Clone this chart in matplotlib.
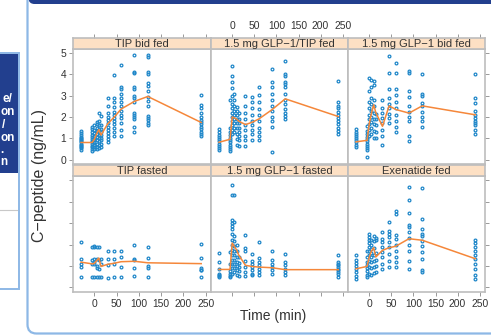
import matplotlib
matplotlib.use("Agg")
import matplotlib.pyplot as plt
from matplotlib.patches import FancyBboxPatch, Rectangle

plt.rcParams['font.family'] = ['Liberation Sans', 'DejaVu Sans']

# ---------------- data ----------------
times = [-30, -5, 0, 5, 10, 15, 30, 45, 60, 90, 120, 240]
x_ticks = [0, 50, 100, 150, 200, 250]
y_ticks = [0, 1, 2, 3, 4, 5]
panel_titles = ["TIP bid fed", "1.5 mg GLP\u22121/TIP fed", "1.5 mg GLP\u22121 bid fed",
                "TIP fasted", "1.5 mg GLP\u22121 fasted", "Exenatide fed"]

pts_tip_bid_fed = [
    [0.45, 0.52, 0.6, 0.65, 0.7, 0.75, 0.8, 0.85, 0.9, 0.95, 1.0, 1.05, 1.15, 1.25, 1.35],
    [0.42, 0.5, 0.58, 0.65, 0.72, 0.8, 0.88, 0.95, 1.05, 1.15, 1.3, 1.45, 1.55],
    [0.5, 0.6, 0.7, 0.8, 0.9, 1.0, 1.1, 1.25, 1.4, 1.6],
    [0.5, 0.6, 0.75, 0.9, 1.05, 1.2, 1.35, 1.5, 1.65, 1.75],
    [0.55, 0.7, 0.85, 1.0, 1.15, 1.3, 1.45, 1.6, 1.8, 2.2],
    [0.6, 0.75, 0.9, 1.0, 1.15, 1.3, 1.45, 1.6, 2.05],
    [0.8, 0.95, 1.1, 1.25, 1.4, 1.55, 1.7, 1.85, 2.0, 2.2, 2.5, 2.9],
    [1.1, 1.3, 1.5, 1.65, 1.8, 1.95, 2.1, 2.25, 2.45, 2.7, 2.9, 3.95],
    [1.1, 1.4, 1.7, 1.95, 2.1, 2.3, 2.5, 2.7, 2.9, 3.1, 3.3, 3.4, 4.45],
    [1.3, 1.55, 1.9, 2.0, 2.1, 2.2, 2.7, 2.9, 3.0, 3.3, 3.4, 4.05, 4.1, 4.9],
    [1.6, 1.7, 1.85, 1.95, 2.05, 2.5, 2.75, 2.95, 3.2, 3.45, 3.6, 4.0, 4.1, 4.8, 4.9],
    [1.1, 1.2, 1.3, 1.45, 1.55, 1.65, 1.75, 1.85, 2.0, 2.2, 2.4, 2.55, 3.05],
]
pts_glp_tip_fed = [
    [0.44, 0.55, 0.65, 0.75, 0.85, 0.95, 1.05, 1.15, 1.3, 1.45],
    [0.4, 0.5, 0.6, 0.7, 0.8, 0.9, 1.0, 1.15, 1.3, 1.5, 2.8],
    [1.2, 1.4, 1.6, 1.8, 2.0, 2.2, 2.4, 2.6, 3.0, 3.35, 3.66, 3.9, 4.39],
    [1.3, 1.5, 1.7, 1.9, 2.1, 2.3, 2.5, 2.8, 3.1],
    [0.7, 0.95, 1.2, 1.5, 1.7, 1.9, 2.1, 2.3, 2.45],
    [0.65, 0.9, 1.1, 1.3, 1.5, 1.7, 1.9, 2.2],
    [0.65, 0.9, 1.1, 1.4, 1.6, 1.9, 2.2, 2.5, 3.0],
    [0.9, 1.2, 1.4, 1.6, 1.8, 2.1, 2.4, 2.7, 2.95],
    [0.9, 1.1, 1.3, 1.5, 1.8, 2.1, 2.35, 2.7, 3.05, 3.4],
    [0.34, 1.55, 1.8, 2.0, 2.3, 2.5, 2.8, 3.1, 3.4, 3.65, 4.24],
    [1.9, 2.05, 2.2, 2.35, 2.6, 2.8, 3.1, 3.4, 3.55, 3.65, 3.9, 4.0, 4.63],
    [1.2, 1.35, 1.5, 1.65, 1.8, 1.95, 2.1, 2.25, 2.4, 2.5, 2.7, 3.7],
]
pts_glp_bid_fed = [
    [0.6, 0.7, 0.8, 0.9, 1.0, 1.1, 1.2, 1.3, 1.43],
    [0.1, 0.45, 0.55, 0.65, 0.75, 0.85, 0.95, 1.05, 1.2, 1.35, 1.56],
    [1.1, 1.4, 1.65, 1.9, 2.1, 2.4, 2.7, 3.2, 3.85],
    [1.2, 1.5, 1.75, 2.0, 2.3, 2.6, 2.9, 3.4, 3.75],
    [1.0, 1.35, 1.65, 1.9, 2.2, 2.5, 2.8, 3.5, 3.7],
    [1.0, 1.3, 1.6, 1.9, 2.15],
    [0.7, 1.1, 1.4, 1.7, 1.95, 2.2, 2.4, 2.8],
    [1.7, 1.95, 2.15, 2.4, 2.6, 2.9, 3.3, 4.08, 4.88],
    [1.3, 1.55, 1.8, 2.1, 2.4, 2.7, 3.05, 3.3, 4.05, 4.55],
    [0.85, 1.1, 1.8, 2.0, 2.25, 2.5, 2.95, 3.2, 4.05, 4.16],
    [1.55, 1.8, 2.0, 2.25, 2.5, 2.65, 3.0, 3.1, 4.02],
    [1.2, 1.4, 1.6, 1.7, 1.8, 1.95, 2.1, 2.3, 2.65, 2.9, 4.02],
]
pts_tip_fasted = [
    [0.48, 0.95, 1.1, 1.31, 2.12],
    [0.48, 1.1, 1.3, 1.88],
    [0.48, 1.08, 1.2, 1.31, 1.9, 1.93],
    [0.48, 0.9, 0.98, 1.33, 1.9],
    [0.5, 0.87, 1.26, 1.88],
    [0.5, 1.1, 1.33],
    [0.45, 1.07, 1.31, 1.7],
    [0.48, 1.1, 1.33, 1.7],
    [0.5, 0.95, 1.4, 1.7],
    [0.53, 0.92, 1.26, 1.33, 2.0],
    [0.47, 0.92, 1.02, 1.39, 1.88],
    [0.47, 0.8, 0.83, 0.92, 1.39, 2.04],
]
pts_glp_fasted = [
    [0.48, 0.55, 0.6, 0.64, 0.85, 1.18, 1.6],
    [0.48, 0.55, 0.64, 0.75, 1.1, 1.65],
    [0.64, 0.9, 1.1, 1.3, 1.5, 1.75, 2.0, 2.2, 2.5, 2.7, 2.85, 3.0, 3.13, 4.3, 4.77],
    [0.7, 0.9, 1.1, 1.3, 1.5, 1.7, 1.95, 2.15, 2.4, 3.05, 4.3],
    [0.6, 0.8, 1.0, 1.2, 1.4, 1.7, 2.0],
    [0.55, 0.75, 0.95, 1.15, 1.4],
    [0.55, 0.7, 0.95, 1.25, 1.7, 1.85, 2.43],
    [0.6, 0.64, 0.8, 0.95, 1.1, 1.25, 1.57],
    [0.56, 0.72, 0.88, 1.03, 1.2, 1.36, 2.12],
    [0.64, 0.8, 0.95, 1.1, 1.26, 1.7],
    [0.56, 0.72, 0.87, 1.03, 1.18, 1.57],
    [0.48, 0.64, 0.72, 0.8, 0.87, 0.95, 1.03, 1.1, 1.18, 1.53],
]
pts_exenatide_fed = [
    [0.4, 0.55, 0.7, 0.85, 1.0, 1.15, 1.26, 1.5],
    [0.48, 0.6, 0.75, 0.9, 1.05, 1.2, 1.4, 1.7],
    [0.65, 0.95, 1.25, 1.5, 1.7, 1.9, 2.05, 2.2, 2.35, 2.48],
    [0.6, 0.9, 1.2, 1.4, 1.6, 1.8, 2.0, 2.2],
    [0.67, 0.95, 1.25, 1.5, 1.85, 2.15, 2.4],
    [0.7, 1.0, 1.3, 1.6, 2.2, 2.3],
    [0.87, 1.1, 1.4, 1.65, 1.9, 2.1, 2.25, 2.6],
    [0.95, 1.25, 1.57, 1.88, 2.1, 2.35, 2.5, 2.65, 3.05],
    [0.95, 1.2, 1.42, 1.72, 2.0, 2.25, 2.45, 3.44, 3.57],
    [0.87, 1.25, 1.72, 2.0, 2.3, 2.6, 2.8, 2.9, 3.48, 4.07, 4.69],
    [0.72, 0.8, 1.31, 1.64, 1.95, 2.18, 2.42, 2.5, 2.7, 3.2, 4.61],
    [0.4, 0.6, 0.87, 1.1, 1.34, 1.5, 1.7, 1.9, 2.05, 2.23],
]

mean_tip_bid_fed = [0.8, 0.8, 0.95, 1.2, 1.4, 1.15, 1.68, 2.0, 2.37, 2.73, 2.96, 1.74]
mean_glp_tip_fed = [0.81, 0.95, 2.0, 1.95, 1.9, 1.8, 1.64, 1.75, 1.9, 2.34, 2.85, 2.02]
mean_glp_bid_fed = [0.83, 0.9, 1.67, 2.17, 2.57, 2.2, 1.56, 2.52, 2.35, 2.18, 2.52, 2.1]
mean_tip_fasted = [1.18, 1.1, 1.12, 1.25, 1.37, 0.98, 1.08, 1.13, 1.2, 1.22, 1.15, 1.11]
mean_glp_fasted = [0.84, 0.84, 2.07, 1.9, 1.75, 1.5, 1.03, 0.98, 0.95, 0.92, 0.83, 0.83]
mean_exenatide_fed = [0.87, 0.98, 1.4, 1.7, 1.85, 1.42, 1.73, 1.85, 1.92, 2.27, 2.2, 1.34]

panel_points = [pts_tip_bid_fed, pts_glp_tip_fed, pts_glp_bid_fed,
                pts_tip_fasted, pts_glp_fasted, pts_exenatide_fed]
panel_means = [mean_tip_bid_fed, mean_glp_tip_fed, mean_glp_bid_fed,
               mean_tip_fasted, mean_glp_fasted, mean_exenatide_fed]

# ---------------- layout (pixels) ----------------
W, H = 491, 336
fig = plt.figure(figsize=(W / 100, H / 100), dpi=100)

DARK = '#223f8e'
LIGHT = '#8db8e6'
GRID = '#bdbdbd'
TXT = '#333333'
BLUE = '#1f87c9'
ORANGE = '#f5873a'
STRIP = '#fde0c4'

# background decorations in a pixel-space axes
bg = fig.add_axes([0, 0, 1, 1], zorder=-5)
bg.set_xlim(0, W)
bg.set_ylim(H, 0)
bg.axis('off')
bg.add_patch(FancyBboxPatch((27.5, -30), 520, 363.5,
                            boxstyle='round,pad=0,rounding_size=9',
                            facecolor='white', edgecolor=LIGHT, linewidth=1.6))
bg.add_patch(FancyBboxPatch((28.5, -20), 520, 24,
                            boxstyle='round,pad=0,rounding_size=6',
                            facecolor=DARK, edgecolor='none'))
bg.add_patch(Rectangle((-5, 53), 23.8, 236, facecolor='white', edgecolor=LIGHT, linewidth=1.4))
bg.add_patch(Rectangle((-5, 54), 23, 119, facecolor=DARK, edgecolor='none'))
bg.plot([0, 17], [210, 210], color='#c8c8c8', lw=0.8)
for txt, xr, yc in [("e/", 12, 99), ("on", 15, 112), ("/", 5, 125),
                    ("on", 15, 138), (".", 4, 150), ("n", 7, 162)]:
    bg.text(xr, yc, txt, ha='right', va='center', color='white',
            fontsize=8.5, fontweight='bold')

col_x = [(73, 211), (211, 348), (348, 485)]
row_y = [(49, 164), (176, 292)]
strip_y = [(38, 49), (165, 176)]
xlim = (-48, 262)
ylim = (-0.21, 5.19)

for i in range(6):
    r, c = divmod(i, 3)
    x0, x1 = col_x[c]
    y0, y1 = row_y[r]
    s0, s1 = strip_y[r]
    ax = fig.add_axes([x0 / W, 1 - y1 / H, (x1 - x0) / W, (y1 - y0) / H])
    sax = fig.add_axes([x0 / W, 1 - s1 / H, (x1 - x0) / W, (s1 - s0) / H])

    for t, vals in zip(times, panel_points[i]):
        ax.plot([t] * len(vals), vals, linestyle='none', marker='o', ms=2.0,
                mfc='none', mec=BLUE, mew=0.9, zorder=2)
    ax.plot(times, panel_means[i], color=ORANGE, lw=1.1, zorder=3)

    ax.set_xlim(*xlim)
    ax.set_ylim(*ylim)
    ax.set_xticks(x_ticks)
    ax.set_yticks(y_ticks)
    for sp in ax.spines.values():
        sp.set_color(GRID)
        sp.set_linewidth(1.2)
    ax.tick_params(direction='out', length=3, width=0.7, color='#999999',
                   labelsize=7.4, labelcolor=TXT, pad=2)
    ax.tick_params(axis='y', left=(c == 0), right=(c == 2),
                   labelleft=(c == 0 and r == 0), labelright=False)
    ax.tick_params(axis='x', bottom=(r == 1), top=False,
                   labelbottom=(r == 1 and c != 1), labeltop=False)

    sax.set_facecolor(STRIP)
    sax.set_xlim(*xlim)
    sax.set_yticks([])
    for sp in sax.spines.values():
        sp.set_color(GRID)
        sp.set_linewidth(1.2)
    if r == 0:
        sax.set_xticks(x_ticks)
        sax.tick_params(axis='x', direction='out', length=3, width=0.7,
                        color='#999999', labelsize=7.4, labelcolor=TXT, pad=2,
                        top=True, bottom=False, labeltop=(c == 1), labelbottom=False)
    else:
        sax.set_xticks([])
    sax.text(0.5, 0.45, panel_titles[i], transform=sax.transAxes, ha='center',
             va='center', fontsize=8, color=TXT)

fig.text(40 / W, 1 - 176 / H, "C\u2212peptide (ng/mL)", rotation=90, ha='center',
         va='center', fontsize=11.5, color=TXT)
fig.text(273 / W, 1 - 316 / H, "Time (min)", ha='center', va='center',
         fontsize=10, color=TXT)

fig.savefig("out.png", dpi=100)
